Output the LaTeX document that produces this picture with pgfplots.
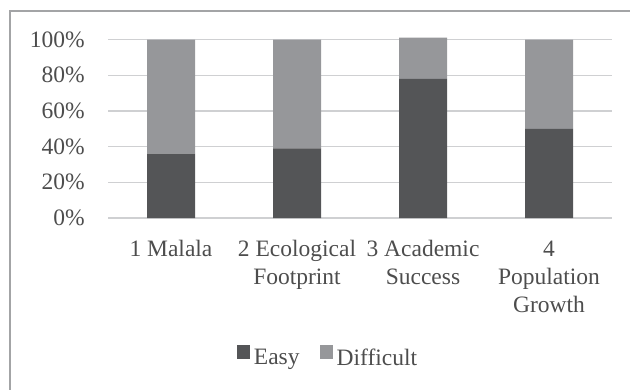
\documentclass[border=0pt]{standalone}
\usepackage{pgfplots}
\pgfplotsset{compat=1.18}
\usepackage{fontspec}
\setmainfont{Liberation Serif}

\definecolor{easy}{HTML}{545557}
\definecolor{difficult}{HTML}{96979A}
\definecolor{gridgray}{HTML}{CFD0D2}
\definecolor{txt}{HTML}{4D4D4D}
\definecolor{framegray}{HTML}{A3A4A6}

\pgfplotstableread{
idx easy difficult
0   36   64
1   39   61
2   78   23
3   50   50
}\answers

\begin{document}
\begin{tikzpicture}
\useasboundingbox (0bp,0bp) rectangle (630bp,-390bp);
% chart frame
\draw[framegray, line width=2bp] (10bp,-395bp) -- (10bp,-10.5bp) -- (640bp,-10.5bp);
\begin{axis}[
  at={(108bp,-218bp)}, anchor=south west,
  scale only axis,
  width=504bp, height=178.5bp,
  ybar stacked,
  bar width=48bp,
  xmin=-0.5, xmax=3.5,
  ymin=0, ymax=100,
  clip=false,
  axis line style={draw=none},
  major tick length=0pt,
  ymajorgrids,
  grid style={gridgray, line width=1.3bp},
  ytick={0,20,40,60,80,100},
  yticklabels={0\%,20\%,40\%,60\%,80\%,100\%},
  xtick={0,1,2,3},
  xticklabels={{1 Malala},{2 Ecological\\Footprint},{3 Academic\\Success},{4\\Population\\Growth}},
  every tick label/.append style={font=\fontsize{23.5bp}{28bp}\selectfont, text=txt, inner sep=0pt},
  yticklabel style={anchor=east, xshift=-23bp},
  xticklabel style={anchor=north, align=center, yshift=-22.4bp},
  legend columns=2,
  legend style={at={(0.2554,-0.776)}, anchor=west, draw=none, fill=none,
    inner sep=0pt, font=\fontsize{23.5bp}{28bp}\selectfont, text=txt,
    nodes={inner sep=1bp},
    /tikz/every even column/.append style={column sep=19bp}},
  legend image code/.code={\fill[#1,draw=none] (0bp,-0.5bp) rectangle (13.5bp,13bp);
    \path (16bp,0bp);},
]
\addplot[fill=easy, draw=none] table[x=idx, y=easy] {\answers};
\addlegendentry{Easy}
\addplot[fill=difficult, draw=none] table[x=idx, y=difficult] {\answers};
\addlegendentry{Difficult}
\end{axis}
\end{tikzpicture}
\end{document}
